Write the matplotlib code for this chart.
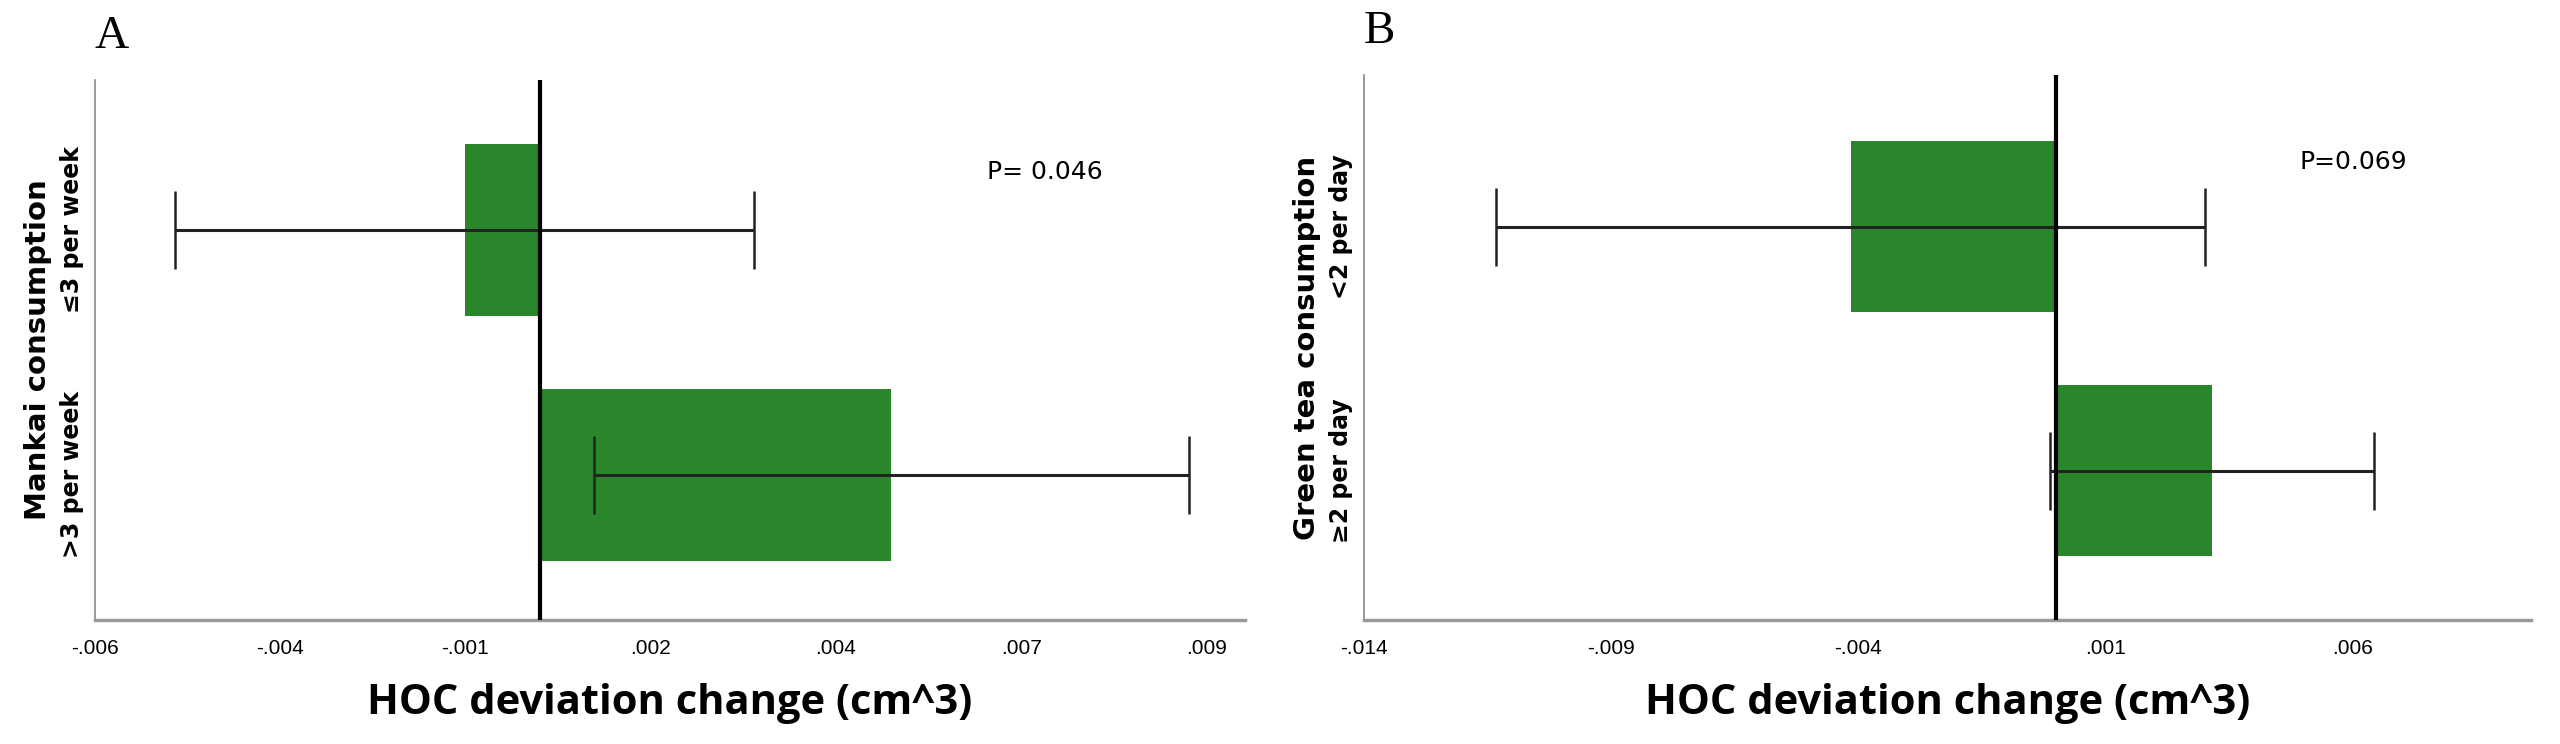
import matplotlib
matplotlib.use("Agg")
import matplotlib.pyplot as plt

# Panel A
cats_a = ["≤3 per week", ">3 per week"]
vals_a = [-0.00100, 0.00474]
lo_a = [-0.00492, 0.00073]
hi_a = [0.00289, 0.00876]
ticks_a = [-0.006, -0.0035, -0.001, 0.0015, 0.004, 0.0065, 0.009]
ticklabels_a = ["-.006", "-.004", "-.001", ".002", ".004", ".007", ".009"]

# Panel B
cats_b = ["<2 per day", "≥2 per day"]
vals_b = [-0.00415, 0.00316]
lo_b = [-0.01132, -0.00012]
hi_b = [0.00302, 0.00644]
ticks_b = [-0.014, -0.009, -0.004, 0.001, 0.006]
ticklabels_b = ["-.014", "-.009", "-.004", ".001", ".006"]

GREEN = "#2a862a"
fig = plt.figure(figsize=(25.6, 7.44), dpi=100)

def panel(rect, cats, vals, lo, hi, ticks, tlabels, xlim, ylabel, ptext, pxy, letter, ylim):
    ax = fig.add_axes(rect)
    y = list(range(len(cats)))
    ax.barh(y, vals, height=0.70, color=GREEN, zorder=1)
    err = [[v - l for v, l in zip(vals, lo)], [h - v for v, h in zip(vals, hi)]]
    ax.errorbar(vals, y, xerr=err, fmt="none", ecolor="#222222", elinewidth=2.2,
                capsize=28, capthick=1.8, zorder=3)
    ax.axvline(0, color="black", lw=3, zorder=4)
    ax.set_xlim(*xlim)
    ax.set_ylim(*ylim)
    ax.set_xticks(ticks)
    ax.set_xticklabels(tlabels, fontsize=15, fontfamily="Liberation Sans")
    ax.tick_params(axis="x", length=0, pad=14)
    ax.set_yticks(y)
    ax.set_yticklabels(cats, rotation=90, va="center", fontsize=17, fontweight="bold")
    ax.tick_params(axis="y", length=0, pad=8)
    for s in ["top", "right"]:
        ax.spines[s].set_visible(False)
    ax.spines["left"].set_color("#888888")
    ax.spines["left"].set_linewidth(1.2)
    ax.spines["bottom"].set_color("#999999")
    ax.spines["bottom"].set_linewidth(2.5)
    ax.set_ylabel(ylabel, fontsize=21, fontweight="bold", labelpad=6)
    ax.set_xlabel("HOC deviation change (cm^3)", fontsize=30, fontweight="bold",
                  fontfamily="Open Sans", labelpad=18)
    ax.text(pxy[0], pxy[1], ptext, transform=ax.transAxes, fontsize=18, ha="center", va="center")
    ax.text(0.0, 1.04, letter, transform=ax.transAxes, fontsize=34,
            fontfamily="Liberation Serif", ha="left", va="bottom")
    return ax

panel([0.0371, 0.1667, 0.4492, 0.7258], cats_a, vals_a, lo_a, hi_a, ticks_a, ticklabels_a,
      (-0.00593, 0.00952), "Mankai consumption", "P= 0.046", (0.826, 0.83), "A", (1.592, -0.612))
panel([0.5328, 0.1667, 0.4559, 0.7325], cats_b, vals_b, lo_b, hi_b, ticks_b, ticklabels_b,
      (-0.0140, 0.00962), "Green tea consumption", "P=0.069", (0.848, 0.84), "B", (1.61, -0.62))

fig.savefig("out.png", dpi=100, facecolor="white")
